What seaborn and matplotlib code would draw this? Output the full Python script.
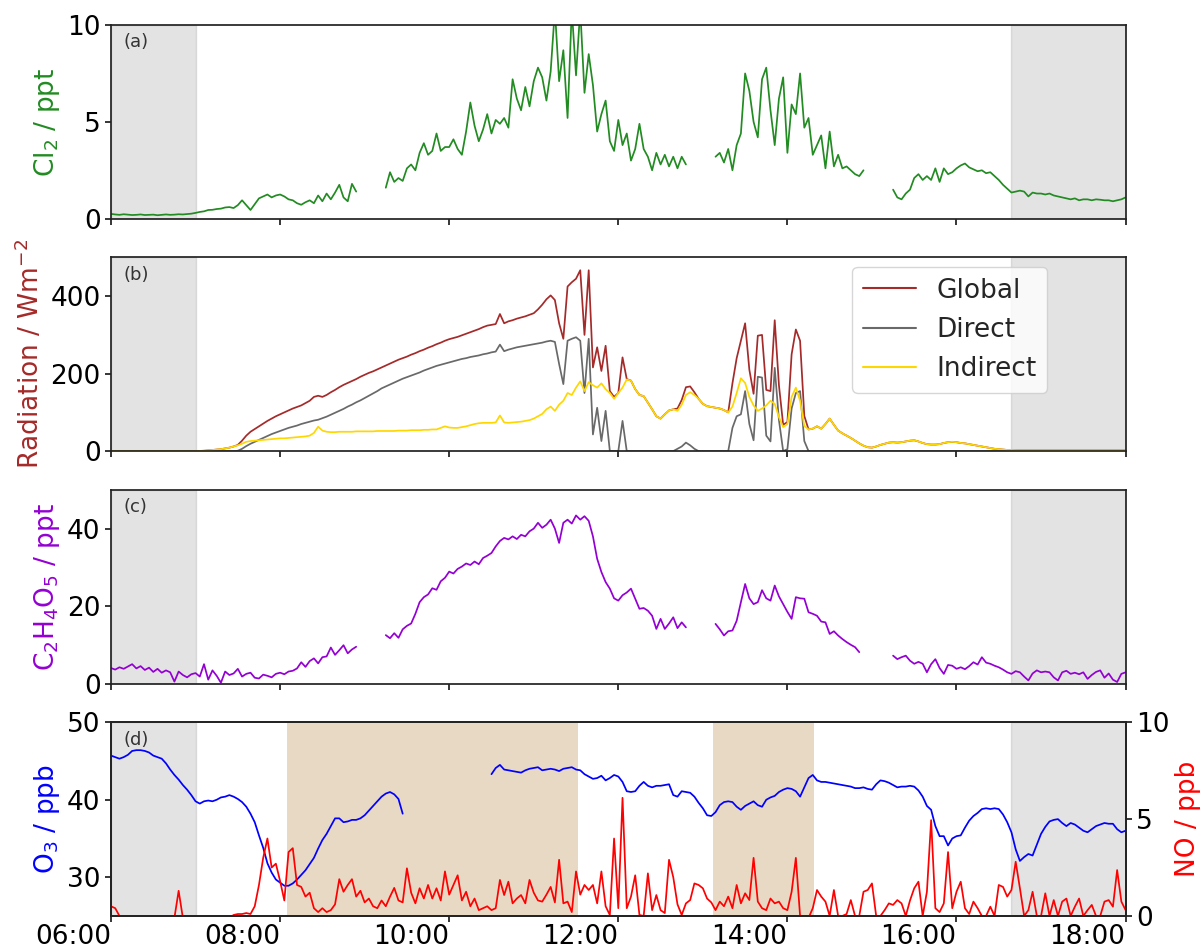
import numpy as np
import pandas as pd
import matplotlib
matplotlib.use("Agg")
import matplotlib.pyplot as plt
import seaborn as sns

N = np.nan

# time axis: 06:00 .. 18:00 every 3 minutes (decimal hours)
t_start, t_step, n_pts = 6.0, 0.05, 241

cl2 = [
    0.25, 0.22, 0.20, 0.23, 0.21, 0.19, 0.20, 0.22, 0.19, 0.20, 0.21, 0.18, 0.20, 0.22, 0.20, 0.21, 0.23, 0.22, 0.24, 0.26,
    0.30, 0.35, 0.38, 0.45, 0.46, 0.50, 0.52, 0.58, 0.60, 0.55, 0.70, 0.95, 0.70, 0.45, 0.75, 1.05, 1.15, 1.25, 1.10, 1.20,
    1.25, 1.15, 1.00, 0.95, 0.80, 0.72, 0.85, 0.95, 0.80, 1.20, 0.90, 1.30, 1.00, 1.35, 1.75, 1.10, 0.90, 1.80, 1.40, N,
    N, N, N, N, N, 1.60, 2.40, 1.90, 2.10, 1.95, 2.60, 2.80, 2.50, 3.40, 3.90, 3.30, 3.50, 4.40, 3.50, 3.70,
    3.70, 4.10, 3.60, 3.30, 4.50, 6.00, 4.80, 4.00, 4.60, 5.40, 4.40, 5.10, 4.90, 5.20, 4.70, 7.20, 6.20, 5.60, 6.80, 5.80,
    7.10, 7.80, 7.30, 6.10, 7.60, 10.8, 7.10, 8.70, 5.20, 10.8, 7.40, 10.8, 6.50, 8.50, 6.90, 4.50, 5.40, 6.10, 4.00, 3.50,
    5.10, 3.80, 4.40, 3.00, 3.60, 4.90, 3.60, 3.20, 2.50, 3.40, 2.80, 3.30, 2.70, 3.20, 2.60, 3.20, 2.80, N, N, N,
    N, N, N, 3.20, 3.40, 2.90, 3.60, 2.50, 3.80, 4.40, 7.50, 6.60, 5.00, 4.20, 7.20, 7.80, 5.60, 3.80, 6.20, 7.30,
    3.40, 5.90, 5.40, 7.50, 4.70, 5.20, 3.30, 3.80, 4.30, 2.60, 4.50, 2.70, 3.30, 2.60, 2.70, 2.50, 2.30, 2.20, 2.50, N,
    N, N, N, N, N, 1.50, 1.10, 1.00, 1.30, 1.50, 2.10, 2.30, 2.00, 2.20, 2.00, 2.60, 1.90, 2.60, 2.30, 2.40,
    2.60, 2.75, 2.85, 2.65, 2.55, 2.45, 2.50, 2.35, 2.40, 2.20, 2.00, 1.75, 1.55, 1.35, 1.40, 1.45, 1.40, 1.15, 1.35, 1.30,
    1.30, 1.25, 1.30, 1.20, 1.15, 1.10, 1.05, 1.00, 1.05, 0.95, 1.00, 1.00, 0.95, 1.00, 0.98, 0.95, 0.95, 0.90, 0.95, 1.00,
    1.10,
]

rad_global = [
    0, 0, 0, 0, 0, 0, 0, 0, 0, 0, 0, 0, 0, 0, 0, 0, 0, 0, 0, 0,
    0, 0.5, 1, 2, 3, 4, 5, 7, 9, 12, 16, 27, 40, 50, 57, 64, 71, 78, 84, 90,
    95, 100, 105, 110, 114, 118, 124, 130, 140, 143, 140, 145, 152, 158, 165, 171, 176, 181, 186, 192,
    197, 202, 206, 211, 216, 221, 226, 231, 236, 240, 244, 249, 253, 258, 262, 267, 271, 276, 280, 285,
    289, 292, 295, 299, 303, 307, 311, 315, 320, 324, 326, 328, 354, 330, 335, 338, 342, 345, 348, 352,
    356, 366, 378, 392, 402, 390, 330, 290, 425, 436, 445, 467, 300, 467, 216, 268, 207, 272, 155, 140,
    150, 242, 186, 182, 160, 145, 142, 125, 108, 90, 84, 95, 105, 108, 110, 132, 165, 167, 152, 135,
    122, 116, 114, 112, 110, 106, 100, 175, 240, 285, 330, 210, 148, 298, 300, 158, 155, 338, 170, 68,
    75, 250, 314, 285, 91, 56, 58, 64, 58, 70, 84, 68, 53, 46, 40, 34, 27, 20, 14, 10,
    9, 12, 16, 19, 22, 23, 22, 23, 25, 27, 28, 25, 21, 18, 17, 17, 18, 21, 23, 24,
    23, 21, 20, 18, 16, 14, 12, 10, 8, 6, 5, 4, 3, 3, 2.5, 2, 2, 2, 2, 2,
    2, 2, 2, 2, 2, 2, 2, 2, 2, 2, 2, 2, 2, 2, 2, 2, 2, 2, 2, 2,
    2,
]

rad_direct = [
    0, 0, 0, 0, 0, 0, 0, 0, 0, 0, 0, 0, 0, 0, 0, 0, 0, 0, 0, 0,
    0, 0, 0, 0, 0, 0, 0, 0, 0, 0, 1, 6, 13, 19, 24, 29, 34, 39, 44, 48,
    52, 56, 60, 63, 66, 70, 73, 76, 79, 81, 85, 89, 94, 99, 104, 109, 115, 120, 126, 131,
    137, 143, 149, 155, 162, 167, 172, 177, 182, 187, 191, 195, 199, 203, 208, 212, 216, 220, 223, 226,
    229, 232, 235, 238, 240, 243, 245, 247, 250, 252, 255, 257, 275, 258, 262, 265, 268, 270, 272, 274,
    276, 278, 280, 283, 285, 282, 225, 173, 285, 290, 294, 285, 150, 290, 43, 112, 26, 104, 0, 0,
    0, 78, 0, 0, 0, 0, 0, 0, 0, 0, 0, 0, 0, 0, 6, 12, 22, 15, 6, 0,
    0, 0, 0, 0, 0, 0, 0, 60, 90, 95, 155, 70, 28, 192, 190, 40, 25, 215, 80, 0,
    5, 110, 150, 155, 26, 0, 0, 0, 0, 0, 0, 0, 0, 0, 0, 0, 0, 0, 0, 0,
    0, 0, 0, 0, 0, 0, 0, 0, 0, 0, 0, 0, 0, 0, 0, 0, 0, 0, 0, 0,
    0, 0, 0, 0, 0, 0, 0, 0, 0, 0, 0, 0, 0, 0, 0, 0, 0, 0, 0, 0,
    0, 0, 0, 0, 0, 0, 0, 0, 0, 0, 0, 0, 0, 0, 0, 0, 0, 0, 0, 0,
    0,
]

rad_indirect = [
    0, 0, 0, 0, 0, 0, 0, 0, 0, 0, 0, 0, 0, 0, 0, 0, 0, 0, 0, 0,
    0, 0.5, 1, 2, 3, 4, 5, 7, 9, 12, 15, 19, 24, 26, 27, 28, 29, 30, 31, 32,
    33, 33, 34, 35, 36, 37, 38, 40, 47, 63, 53, 50, 49, 49, 50, 50, 50, 50, 51, 51,
    51, 51, 51, 52, 52, 52, 52, 52, 53, 53, 53, 54, 54, 54, 55, 55, 56, 56, 60, 64,
    61, 60, 60, 62, 64, 67, 70, 72, 73, 73, 73, 74, 92, 74, 73, 74, 75, 76, 78, 80,
    84, 90, 96, 108, 115, 104, 120, 130, 150, 145, 164, 180, 155, 178, 170, 164, 175, 160, 150, 135,
    150, 164, 185, 182, 160, 145, 142, 125, 108, 90, 84, 95, 105, 108, 104, 120, 145, 152, 145, 135,
    122, 116, 114, 112, 110, 106, 100, 115, 150, 188, 176, 140, 118, 104, 110, 118, 130, 122, 88, 62,
    70, 140, 164, 130, 65, 56, 58, 64, 58, 70, 84, 68, 53, 46, 40, 34, 27, 20, 14, 10,
    9, 12, 16, 19, 22, 23, 22, 23, 25, 27, 28, 25, 21, 18, 17, 17, 18, 21, 23, 24,
    23, 21, 20, 18, 16, 14, 12, 10, 8, 6, 5, 4, 3, 3, 2.5, 2, 2, 2, 2, 2,
    2, 2, 2, 2, 2, 2, 2, 2, 2, 2, 2, 2, 2, 2, 2, 2, 2, 2, 2, 2,
    2,
]

c2h4o5 = [
    4.0, 3.6, 4.2, 3.8, 4.4, 5.0, 3.9, 4.5, 3.5, 4.1, 3.0, 3.8, 2.8, 3.4, 2.9, 0.5, 3.1, 2.2, 1.6, 2.4,
    2.7, 1.8, 5.0, 1.0, 3.4, 2.0, 0.2, 3.1, 2.2, 2.6, 3.8, 1.8, 2.5, 2.8, 1.5, 1.3, 2.3, 2.0, 1.6, 2.5,
    2.8, 2.4, 3.1, 3.3, 3.9, 5.5, 4.3, 5.8, 6.5, 5.2, 6.8, 7.0, 9.3, 7.4, 8.6, 9.9, 7.8, 8.8, 9.5, N,
    N, N, N, N, N, 12.5, 11.7, 13.0, 11.8, 14.0, 14.9, 15.5, 18.0, 21.0, 22.3, 23.0, 24.6, 24.2, 26.4, 27.3,
    28.9, 28.4, 29.6, 30.2, 31.0, 30.6, 31.5, 30.8, 32.4, 33.0, 33.7, 35.4, 36.8, 37.6, 37.2, 38.0, 37.3, 38.4, 38.0, 39.3,
    40.0, 41.5, 40.2, 41.0, 42.3, 40.0, 36.3, 41.5, 42.3, 41.3, 43.4, 42.3, 43.2, 42.0, 38.0, 32.2, 28.8, 26.2, 24.5, 22.0,
    21.4, 22.8, 23.5, 24.5, 21.9, 19.3, 19.5, 18.8, 17.5, 14.1, 16.7, 14.1, 15.5, 17.1, 14.3, 15.8, 14.5, N, N, N,
    N, N, N, 15.4, 14.0, 12.4, 13.5, 13.7, 16.2, 21.0, 25.7, 22.0, 20.5, 21.0, 24.1, 22.0, 21.4, 25.3, 22.5, 20.5,
    18.5, 16.7, 22.3, 22.0, 21.9, 18.4, 18.0, 17.5, 16.0, 15.8, 12.8, 13.5, 12.4, 11.5, 10.7, 10.0, 9.4, 8.1, N, N,
    N, N, N, N, N, 7.2, 6.3, 6.8, 7.2, 5.9, 5.1, 5.6, 5.1, 2.9, 5.0, 6.3, 4.0, 2.5, 4.8, 4.6,
    3.8, 4.2, 3.7, 4.5, 5.5, 4.9, 6.8, 5.4, 5.1, 4.6, 4.2, 3.6, 2.9, 2.5, 3.2, 2.9, 1.8, 0.8, 2.6, 3.4,
    2.9, 3.1, 2.9, 1.6, 0.8, 2.9, 3.3, 2.5, 2.8, 2.4, 2.9, 1.2, 2.2, 3.0, 3.4, 1.5, 2.6, 1.0, 0.4, 2.5,
    2.9,
]

o3 = [
    45.7, 45.5, 45.3, 45.5, 45.8, 46.3, 46.4, 46.4, 46.3, 46.1, 45.7, 45.5, 45.3, 44.7, 43.9, 43.2, 42.6, 41.9, 41.3, 40.6,
    39.8, 39.5, 39.8, 39.9, 39.8, 40.0, 40.3, 40.4, 40.6, 40.4, 40.1, 39.7, 39.1, 38.2, 37.1, 35.4, 33.8, 31.8, 30.6, 29.7,
    29.3, 28.9, 28.9, 29.2, 29.7, 30.3, 30.9, 31.7, 32.5, 33.7, 34.8, 35.6, 36.6, 37.6, 37.6, 37.1, 37.2, 37.4, 37.4, 37.6,
    38.0, 38.6, 39.2, 39.8, 40.4, 40.8, 41.0, 40.7, 40.1, 38.2, N, N, N, N, N, N, N, N, N, N,
    N, N, N, N, N, N, N, N, N, N, 43.3, 44.1, 44.5, 43.9, 43.8, 43.7, 43.6, 43.5, 43.8, 44.0,
    44.1, 44.2, 43.8, 43.9, 44.0, 43.9, 43.7, 44.0, 44.1, 44.2, 43.9, 43.8, 43.3, 43.0, 42.7, 42.8, 43.1, 42.5, 42.8, 43.2,
    43.0, 42.3, 41.1, 41.0, 41.1, 41.8, 42.3, 41.8, 41.6, 41.8, 41.8, 41.9, 42.0, 40.6, 40.4, 41.1, 41.0, 40.9, 40.4, 39.6,
    38.9, 38.0, 37.9, 38.4, 39.3, 39.7, 39.8, 39.7, 39.1, 38.7, 39.2, 39.5, 39.8, 39.3, 39.1, 40.0, 40.3, 40.5, 41.0, 41.3,
    41.5, 41.4, 41.1, 40.4, 41.6, 42.8, 43.2, 42.5, 42.3, 42.3, 42.2, 42.1, 42.0, 41.9, 41.8, 41.7, 41.5, 41.5, 41.6, 41.4,
    41.3, 42.0, 42.5, 42.4, 42.2, 41.9, 41.6, 41.7, 41.7, 41.8, 41.7, 41.2, 40.4, 39.2, 38.7, 36.6, 35.3, 35.3, 34.1, 35.0,
    35.3, 35.4, 36.4, 37.3, 37.9, 38.3, 38.8, 38.9, 38.8, 38.9, 38.8, 38.1, 37.1, 35.8, 33.6, 32.1, 32.6, 33.0, 32.8, 34.2,
    35.6, 36.5, 37.2, 37.4, 37.5, 37.0, 36.6, 37.0, 36.8, 36.4, 36.0, 35.8, 36.2, 36.6, 36.8, 37.0, 36.9, 36.9, 36.2, 35.8,
    36.0,
]

no = [
    0.5, 0.4, 0.0, -0.1, -0.2, -0.1, -0.2, -0.1, -0.2, -0.1, -0.2, -0.1, -0.2, -0.1, -0.2, -0.1, 1.3, -0.1, -0.2, -0.1,
    -0.2, -0.1, -0.2, -0.1, -0.2, -0.1, -0.2, -0.1, -0.1, 0.05, 0.1, 0.1, 0.15, 0.1, 0.5, 1.6, 3.0, 4.0, 2.5, 2.7,
    1.8, 0.8, 3.3, 3.5, 1.6, 1.5, 1.0, 1.2, 0.4, 0.2, 0.4, 0.2, 0.3, 0.6, 1.9, 1.25, 1.6, 1.9, 1.0, 1.3,
    0.7, 0.9, 0.5, 0.4, 0.8, 0.5, 1.0, 1.45, 0.8, 0.7, 2.46, 1.2, 0.65, 1.43, 0.9, 1.6, 0.9, 1.43, 0.8, 2.3,
    1.1, 1.6, 2.1, 0.8, 1.25, 0.5, 0.9, 0.3, 0.4, 0.5, 0.3, 0.4, 1.86, 1.08, 1.77, 0.65, 0.9, 1.08, 0.65, 1.86,
    1.2, 0.8, 0.74, 1.1, 1.5, 0.7, 2.9, 0.65, 0.74, 0.2, 2.3, 1.1, 1.6, 1.34, 1.6, 0.65, 2.3, 0.5, 0.05, 4.0,
    0.4, 6.1, 0.4, 1.0, 2.1, 0.05, 0.0, 2.2, 0.3, 1.08, 0.3, 0.15, 2.9, 2.0, 0.6, 0.05, 0.65, 0.82, 1.68, 1.6,
    1.43, 0.9, 0.7, 0.3, 0.74, 0.5, 1.0, 0.4, 1.6, 0.65, 1.17, 0.82, 3.0, 0.74, 0.4, 0.3, 0.9, 0.65, 0.74, 0.4,
    0.3, 1.25, 3.0, 0.0, -0.1, -0.1, 0.4, 1.34, 1.0, 0.74, 0.0, 1.34, 0.0, 0.0, 0.1, 0.82, 0.0, 0.0, 1.25, 1.34,
    1.68, 0.0, 0.0, 0.3, 0.65, 0.57, 0.82, 0.65, 0.0, 0.8, 1.43, 1.77, 0.0, 1.25, 4.95, 0.4, 0.2, 0.65, 3.3, 0.4,
    1.25, 1.77, 0.4, 0.1, 0.74, 0.4, 0.0, 0.0, 0.48, 0.0, 1.6, 1.5, 1.0, 1.34, 2.8, 1.43, 0.0, 0.3, 1.25, 0.0,
    0.0, 1.17, 0.0, 0.82, 0.0, 0.74, 0.9, 0.0, 0.48, 0.9, 0.0, 0.3, 0.57, 0.0, 0.0, 0.74, 0.82, 0.48, 2.37, 0.74,
    0.3,
]

tick_hours = [6, 8, 10, 12, 14, 16, 18]
tick_labels = ["06:00", "08:00", "10:00", "12:00", "14:00", "16:00", "18:00"]
night_spans = [(6.0, 7.0), (16.64, 18.0)]
ozone_spans = [(8.08, 11.52), (13.12, 14.32)]
panel_tags = ["(a)", "(b)", "(c)", "(d)"]

# ---------------------------------------------------------------------------
sns.set_theme(style="ticks")
plt.rcParams["font.family"] = ["DejaVu Sans"]
plt.rcParams["mathtext.fontset"] = "dejavusans"

t = t_start + np.arange(n_pts) * t_step


def draw(ax, values, color, label=None, lw=1.25):
    df = pd.DataFrame({"t": t, "v": np.asarray(values, dtype=float)})
    df["seg"] = df["v"].isna().cumsum()
    df = df.dropna()
    if label is None:
        sns.lineplot(data=df, x="t", y="v", units="seg", estimator=None,
                     color=color, lw=lw, ax=ax, legend=False, sort=False)
    else:
        sns.lineplot(data=df, x="t", y="v", color=color, lw=lw, ax=ax,
                     label=label, sort=False)


fig = plt.figure(figsize=(12, 9.48), dpi=100)
axes = fig.subplots(4, 1, sharex=True)
fig.subplots_adjust(left=0.0925, right=0.938, top=0.9736, bottom=0.0338, hspace=0.2)

for ax in axes:
    for a, b in night_spans:
        ax.axvspan(a, b, color="grey", alpha=0.22, lw=1)
for a, b in ozone_spans:
    axes[3].axvspan(a, b, color="tan", alpha=0.5, lw=0)

ax1, ax2, ax3, ax4 = axes
draw(ax1, cl2, "forestgreen")
draw(ax2, rad_global, "brown", label="Global")
draw(ax2, rad_direct, "dimgray", label="Direct")
draw(ax2, rad_indirect, "gold", label="Indirect")
draw(ax3, c2h4o5, "darkviolet")
draw(ax4, o3, "blue")
ax4r = ax4.twinx()
draw(ax4r, no, "red")

lab_fs = 19
ax1.set_ylim(0, 10); ax1.set_yticks([0, 5, 10])
ax2.set_ylim(0, 500); ax2.set_yticks([0, 200, 400])
ax3.set_ylim(0, 50); ax3.set_yticks([0, 20, 40])
ax4.set_ylim(25, 50); ax4.set_yticks([30, 40, 50])
ax4r.set_ylim(0, 10); ax4r.set_yticks([0, 5, 10])

ax1.set_ylabel("Cl$_2$ / ppt", color="forestgreen", fontsize=lab_fs)
ax2.set_ylabel("Radiation / Wm$^{-2}$", color="brown", fontsize=lab_fs)
ax3.set_ylabel("C$_2$H$_4$O$_5$ / ppt", color="darkviolet", fontsize=lab_fs)
ax4.set_ylabel("O$_3$ / ppb", color="blue", fontsize=lab_fs)
ax4r.set_ylabel("NO / ppb", color="red", fontsize=lab_fs)

for ax in list(axes) + [ax4r]:
    ax.set_xlabel("")
    ax.tick_params(labelsize=lab_fs, length=4, width=1.1, colors="black")
    for s in ax.spines.values():
        s.set_visible(True)
        s.set_color("#222222")
        s.set_linewidth(1.25)

ax4.set_xlim(6, 18)
ax4.set_xticks(tick_hours)
ax4.set_xticklabels(tick_labels, ha="right")
ax4.tick_params(axis="x", pad=1.5)
for ax in axes[:3]:
    ax.tick_params(labelbottom=False)

for ax, tag in zip(axes, panel_tags):
    ax.text(0.012, 0.91, tag, transform=ax.transAxes, fontsize=13,
            color="#333333", va="center", ha="left")

leg = ax2.legend(loc="upper right", bbox_to_anchor=(0.923, 0.95), borderaxespad=0,
                 fontsize=lab_fs, frameon=True, framealpha=0.8, fancybox=True,
                 handlelength=2.0)
for h in leg.get_lines():
    h.set_linewidth(1.5)

fig.savefig("out.png", dpi=100)
